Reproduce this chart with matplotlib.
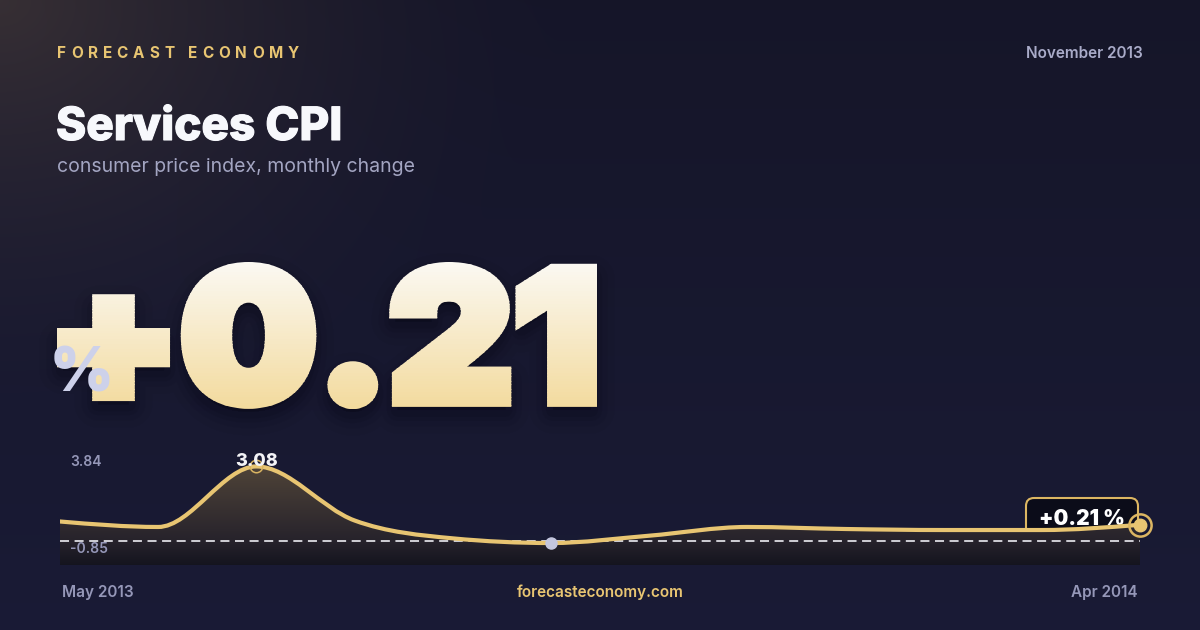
import numpy as np
import matplotlib
matplotlib.use("Agg")
import matplotlib.pyplot as plt
import matplotlib.patheffects as pe
from matplotlib.path import Path
from matplotlib.patches import PathPatch, FancyBboxPatch, Rectangle
from matplotlib.textpath import TextPath
from matplotlib.font_manager import FontProperties
from matplotlib.transforms import Affine2D

plt.rcParams['font.family'] = ['Inter', 'DejaVu Sans']
plt.rcParams['lines.scale_dashes'] = False

# data (monthly change, %)
months = ['May 2013', 'Jun 2013', 'Jul 2013', 'Aug 2013', 'Sep 2013', 'Oct 2013',
          'Nov 2013', 'Dec 2013', 'Jan 2014', 'Feb 2014', 'Mar 2014', 'Apr 2014']
values = [0.37, 0.10, 3.08, 0.42, -0.46, -0.69, -0.33, 0.10, 0.00, -0.05, -0.05, 0.21]
ref_level = -0.58
y_top, y_bot = 3.84, -0.85
latest = 0.21
brand = 'FORECAST ECONOMY'
title = 'Services CPI'
subtitle = 'consumer price index, monthly change'
period = 'November 2013'
site = 'forecasteconomy.com'

GOLD = '#e8c572'
MUTED = '#9597b8'

W, H = 1200, 630
fig = plt.figure(figsize=(12, 6.3), dpi=100)
bg = fig.add_axes([0, 0, 1, 1])
bg.set_xlim(0, W)
bg.set_ylim(H, 0)
bg.axis('off')

# background: dark navy with a warm glow top-left
yy, xx = np.mgrid[0:H, 0:W]
top = np.array([0.085, 0.085, 0.16])
bot = np.array([0.10, 0.105, 0.21])
t = (yy / H)[..., None]
img = top * (1 - t) + bot * t
d = np.sqrt((xx / 560.0) ** 2 + (yy / 440.0) ** 2)
glow = np.clip(1 - d, 0, 1) ** 1.6
img = img + glow[..., None] * np.array([0.13, 0.10, 0.045])
bg.imshow(np.clip(img, 0, 1), extent=(0, W, H, 0), zorder=0, aspect='auto')

r = fig.canvas.get_renderer()
fat = lambda c, w=1.0: [pe.withStroke(linewidth=w, foreground=c)]

# header with letter spacing
x = 57
for ch in brand:
    if ch == ' ':
        x += 9
        continue
    tx = bg.text(x, 53, ch, color=GOLD, fontsize=11, fontweight='bold', va='center', ha='left')
    x += tx.get_window_extent(r).width + 4.9

bg.text(1143, 54, period, color='#a9abc8', fontsize=11, fontweight='semibold', ha='right', va='center')
bg.text(56, 140, title, color='#f7f8fc', fontsize=33, fontweight=800, ha='left', va='baseline',
        path_effects=fat('#f7f8fc', 0.8))
bg.text(57, 167, subtitle, color='#a3a5c2', fontsize=14, ha='left', va='center')

# big number: heavy glyphs with vertical gradient, fitted into its box
big_prop = FontProperties(family='Inter', weight=900)
tp = TextPath((0, 0), '+' + '%.2f' % latest, size=200, prop=big_prop)
ext = tp.get_extents()
grow = 6.0  # px added around each glyph by the stroke
bx0, bx1, by0, by1 = 57 + grow, 597 - grow, 262 + grow, 409 - grow
sx = (bx1 - bx0) / ext.width
sy = (by1 - by0) / ext.height
lw_fat = 2 * grow * 72 / 100.0


def fit(dy=0):
    return (Affine2D().translate(-ext.x0, -ext.y1).scale(sx, -sy).translate(bx0, by0 + dy)
            + bg.transData)


for lw, a in [(34, 0.04), (24, 0.06), (16, 0.08), (10, 0.10)]:
    bg.add_patch(PathPatch(tp, transform=fit(9), facecolor=(0.02, 0.02, 0.06, a),
                           edgecolor=(0.02, 0.02, 0.06, a), lw=lw, joinstyle='round', zorder=2))

c0 = np.array([0.985, 0.98, 0.965])
c1 = np.array([0.95, 0.85, 0.60])
nb = 60
edges = np.linspace(256, 416, nb + 1)
for k in range(nb):
    f = (k + 0.5) / nb
    col = c0 * (1 - f) + c1 * f
    band = Rectangle((0, edges[k]), W, edges[k + 1] - edges[k] + 0.6, transform=bg.transData)
    pp = PathPatch(tp, transform=fit(), facecolor=col, edgecolor=col, lw=lw_fat,
                   joinstyle='miter', zorder=3)
    bg.add_patch(pp)
    pp.set_clip_path(band)

bg.text(50, 392, '%', color='#cdd1ea', fontsize=44, fontweight=900, ha='left', va='baseline', zorder=4)

# chart
px_top, px_bot = 451, 565
scale = (525 - 466.7) / (values[2] - latest)
y_min = y_top - (px_bot - px_top) / scale
ax = fig.add_axes([60 / W, (H - px_bot) / H, 1080 / W, (px_bot - px_top) / H])
ax.set_xlim(0, len(values) - 1)
ax.set_ylim(y_min, y_top)
ax.axis('off')
ax.patch.set_alpha(0)

xs = np.arange(len(values), dtype=float)
ys = np.array(values, dtype=float)

# monotone cubic (d3 monotoneX style) as bezier path
n = len(xs)
s = np.diff(ys) / np.diff(xs)
m = np.zeros(n)
for i in range(1, n - 1):
    p = (s[i - 1] + s[i]) / 2
    m[i] = (np.sign(s[i - 1]) + np.sign(s[i])) * min(abs(s[i - 1]), abs(s[i]), 0.5 * abs(p))
m[0] = (3 * s[0] - m[1]) / 2
m[-1] = (3 * s[-1] - m[-2]) / 2
verts = [(xs[0], ys[0])]
codes = [Path.MOVETO]
for i in range(n - 1):
    dx = (xs[i + 1] - xs[i]) / 3
    verts += [(xs[i] + dx, ys[i] + dx * m[i]), (xs[i + 1] - dx, ys[i + 1] - dx * m[i + 1]), (xs[i + 1], ys[i + 1])]
    codes += [Path.CURVE4] * 3
line_path = Path(verts, codes)
fill_path = Path(verts + [(xs[-1], y_min), (xs[0], y_min), (xs[0], ys[0])],
                 codes + [Path.LINETO, Path.LINETO, Path.CLOSEPOLY])

fp = PathPatch(fill_path, facecolor='none', edgecolor='none', transform=ax.transData)
ax.add_patch(fp)
g = np.linspace(0, 1, 200)
fc_top = np.array([0.31, 0.265, 0.22])
fc_mid = np.array([0.15, 0.135, 0.17])
fc_bot = np.array([0.08, 0.08, 0.12])
cols = np.where(g[:, None] < 0.76,
                fc_top + (fc_mid - fc_top) * (g[:, None] / 0.76),
                fc_mid + (fc_bot - fc_mid) * ((g[:, None] - 0.76) / 0.24))
fi = ax.imshow(cols[:, None, :], extent=(0, n - 1, y_min, max(values)), aspect='auto', zorder=1)
fi.set_clip_path(fp)

ax.axhline(ref_level, color='#ececf2', lw=1.2, dashes=(6.5, 4), zorder=2)
ax.add_patch(PathPatch(line_path, facecolor='none', edgecolor=GOLD, lw=3, zorder=3, capstyle='round'))

imax = int(np.argmax(ys))
imin = int(np.argmin(ys))
ax.plot(xs[imax], ys[imax], 'o', ms=9, mfc='none', mec='#d9b462', mew=1.1, zorder=4)
ax.plot(xs[imin], ys[imin], 'o', ms=8, color='#c3c6de', zorder=4)
ax.text(xs[imax], ys[imax] + 0.24, '%.2f' % values[imax], color='#f3f3f6', fontsize=13,
        fontweight=800, ha='center', va='center', zorder=5)
ax.text(0.1, y_top - 0.55, '%.2f' % y_top, color=MUTED, fontsize=10, fontweight='semibold', ha='left', va='center')
ax.text(0.1, y_bot - 0.12, '%.2f' % y_bot, color=MUTED, fontsize=10, fontweight='semibold', ha='left', va='center')

# latest value callout
bg.add_patch(FancyBboxPatch((1026, 498), 112, 43, boxstyle='round,pad=0,rounding_size=8',
                            facecolor='#0b0c19', edgecolor='#dcb662', lw=1.5, zorder=5))
bg.text(1082, 519, '+%.2f %%' % latest, color='white', fontsize=15, fontweight=900,
        ha='center', va='center', zorder=6)
ax.plot(xs[-1], ys[-1], 'o', ms=16, mfc='none', mec='#dcb662', mew=1.8, zorder=6, clip_on=False)
ax.plot(xs[-1], ys[-1], 'o', ms=9, color=GOLD, zorder=7, clip_on=False)

# footer
bg.text(62, 592, months[0], color=MUTED, fontsize=11, fontweight='semibold', ha='left', va='center')
bg.text(600, 592, site, color=GOLD, fontsize=11, fontweight='semibold', ha='center', va='center')
bg.text(1138, 592, months[-1], color=MUTED, fontsize=11, fontweight='semibold', ha='right', va='center')

fig.savefig('out.png', dpi=100)
